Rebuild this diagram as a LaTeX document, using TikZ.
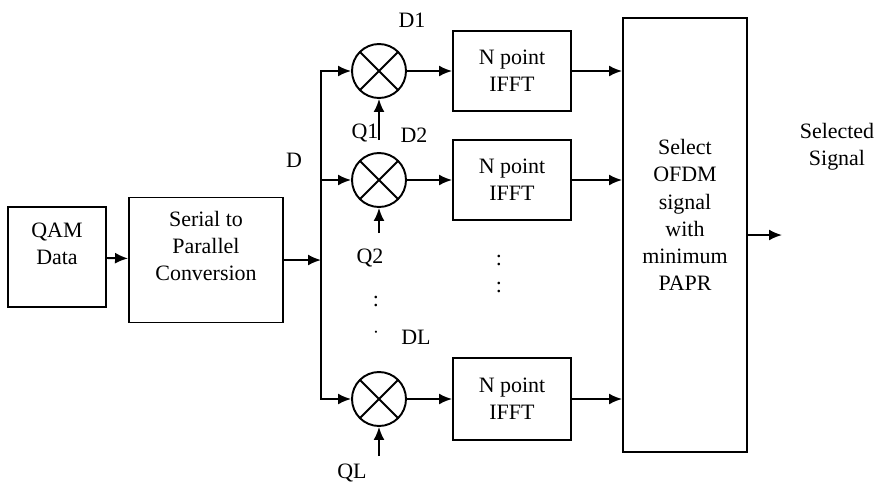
\documentclass[tikz,border=0pt]{standalone}
\usepackage{fontspec}
\setmainfont{Liberation Serif}
\usetikzlibrary{positioning,arrows.meta}

\tikzset{
  blk/.style={draw, line width=1.1pt, inner sep=0pt},
  mixer/.style={circle, draw, line width=1.1pt, minimum size=1.08cm, inner sep=0pt,
    path picture={\draw[line width=1.1pt]
      (path picture bounding box.north west) -- (path picture bounding box.south east)
      (path picture bounding box.north east) -- (path picture bounding box.south west);}},
  arr/.style={line width=1.1pt, -{Latex[length=2.6mm,width=2.2mm]}},
  lbl/.style={font=\fontsize{12.5}{15.5}\selectfont, align=center, inner sep=0pt},
}

\begin{document}
\begin{tikzpicture}[x=0.02cm, y=-0.02cm]
  \useasboundingbox (0,0) rectangle (879,484);

  % input side
  \node[blk, minimum width=1.96cm, minimum height=2cm,
        label={[lbl,yshift=0.26cm]center:QAM\\Data}] (qam) at (57,257) {};
  \node[blk, minimum width=3.08cm, minimum height=2.5cm,
        label={[lbl,yshift=0.28cm]center:Serial to\\Parallel\\Conversion}] (s2p) at (206,260) {};
  \coordinate (bus) at (321,260);

  % mixers
  \node[mixer] (mx1) at (379,71) {};
  \node[mixer] (mx2) at (379,180) {};
  \node[mixer] (mxL) at (379,399) {};
  \coordinate (q1) at (379,140);
  \coordinate (q2) at (379,233);
  \coordinate (qL) at (379,456);

  % IFFT blocks
  \node[blk, lbl, minimum width=2.36cm, minimum height=1.6cm] (if1) at (512,71) {N point\\IFFT};
  \node[blk, lbl, minimum width=2.36cm, minimum height=1.6cm] (if2) at (512,180) {N point\\IFFT};
  \node[blk, lbl, minimum width=2.36cm, minimum height=1.64cm] (ifL) at (512,399) {N point\\IFFT};

  % selection
  \node[blk, minimum width=2.48cm, minimum height=8.68cm,
        label={[lbl,yshift=0.4cm]center:Select\\OFDM\\signal\\with\\minimum\\PAPR}] (sel) at (685,235) {};
  \coordinate (outp) at (782,235);

  % labels
  \node[lbl] (lD) at (294,160) {D};
  \node[lbl] (lD1) at (412,20) {D1};
  \node[lbl] (lQ1) at (365,133) {Q1};
  \node[lbl] (lD2) at (414,135) {D2};
  \node[lbl] (lQ2) at (370,258) {Q2};
  \node[lbl] (lDL) at (416,337) {DL};
  \node[lbl] (lQL) at (352,473) {QL};
  \node[lbl] (lout) at (837,147) {Selected\\Signal};
  \node[lbl] (dots1) at (376,301) {:};
  \node[lbl] (dots2) at (376,333) {$\cdot$};
  \node[lbl] (dots3) at (499,260) {:};
  \node[lbl] (dots4) at (499,287) {:};

  % connections
  \draw[arr] (qam) -- (s2p);
  \draw[arr] (s2p) -- (bus);
  \draw[arr] (bus) |- (mx1);
  \draw[arr] (bus) |- (mx2);
  \draw[arr] (bus) |- (mxL);
  \draw[arr] (q1) -- (mx1);
  \draw[arr] (q2) -- (mx2);
  \draw[arr] (qL) -- (mxL);
  \draw[arr] (mx1) -- (if1);
  \draw[arr] (mx2) -- (if2);
  \draw[arr] (mxL) -- (ifL);
  \draw[arr] (if1) -- (if1 -| sel.west);
  \draw[arr] (if2) -- (if2 -| sel.west);
  \draw[arr] (ifL) -- (ifL -| sel.west);
  \draw[arr] (sel) -- (outp);
\end{tikzpicture}
\end{document}
